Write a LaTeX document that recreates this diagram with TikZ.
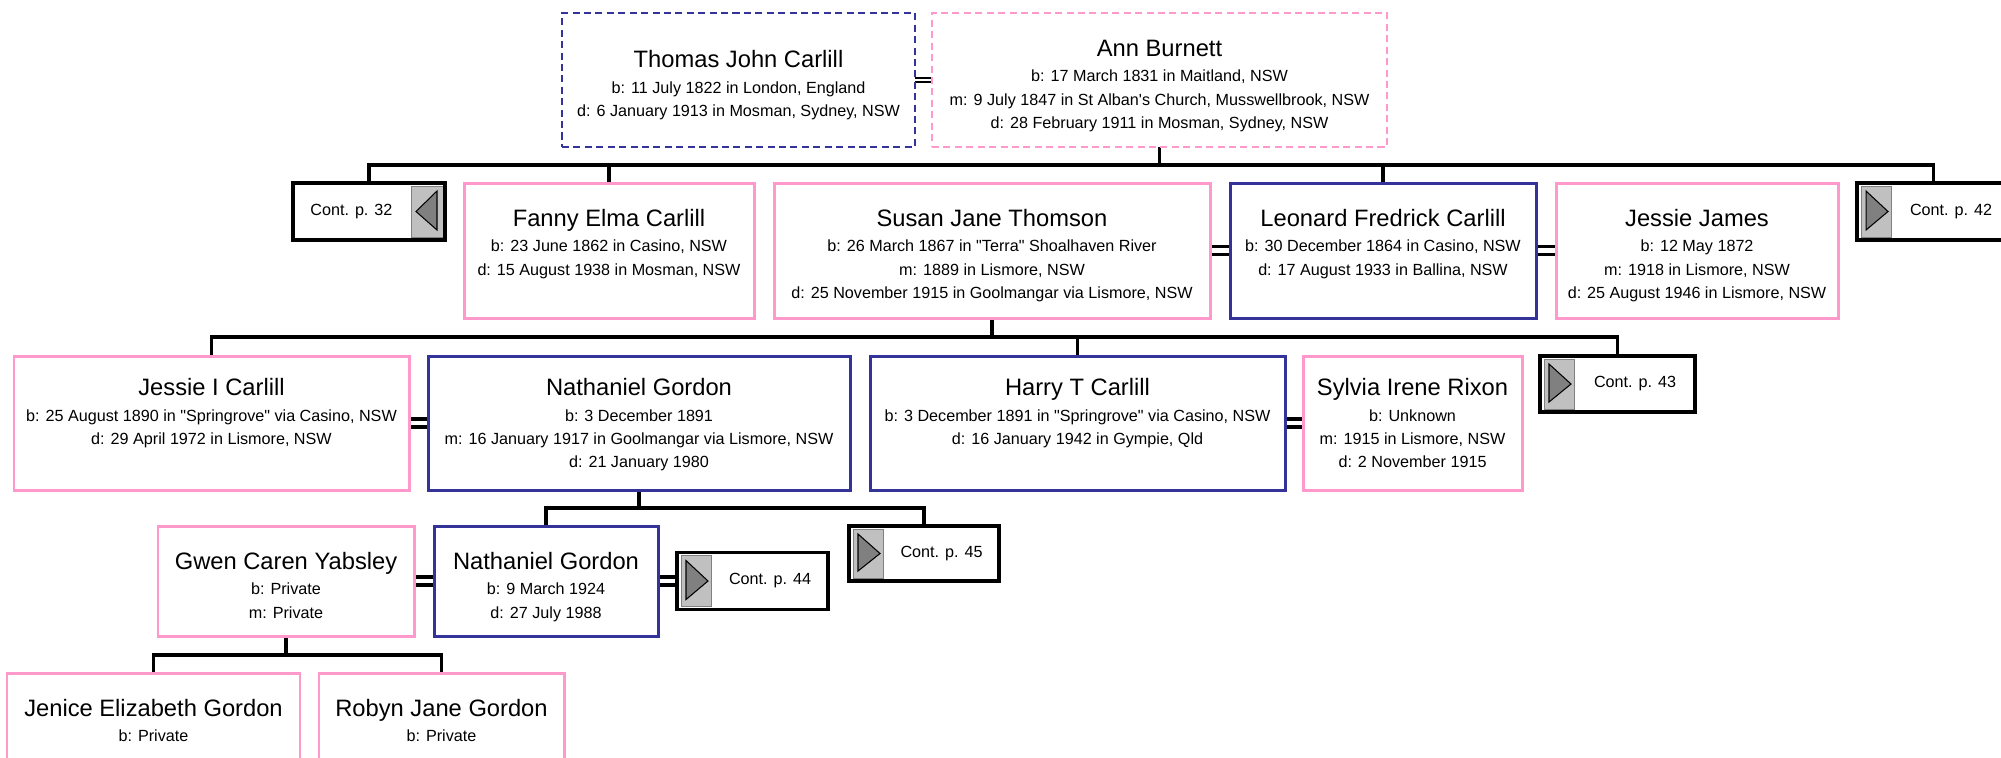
\documentclass[tikz,border=0pt]{standalone}
\usepackage{fontspec}
\setmainfont{Liberation Sans}[Ligatures=TeXOff]
\usetikzlibrary{positioning,calc,backgrounds}

\definecolor{navy}{HTML}{333399}
\definecolor{rose}{HTML}{FF99CC}
\definecolor{tabgray}{HTML}{C0C0C0}
\definecolor{arrowgray}{HTML}{808080}

\newcommand{\detail}{\fontsize{9.2}{13.3}\selectfont}
\newcommand{\nm}[1]{{\fontsize{13.5}{16}\selectfont\strut #1}\\[1.3pt]}

\tikzset{
  person/.style={draw, line width=1.7pt, fill=white, inner sep=0pt, outer sep=0pt},
  man/.style={person, draw=navy},
  woman/.style={person, draw=rose},
  elder/.style={line width=1.1pt, dash pattern=on 4pt off 2.5pt},
  info/.style={anchor=north, align=center, inner sep=0pt, yshift=-13.1pt, font=\detail},
  cont/.style={draw, line width=2pt, fill=white, inner sep=0pt, outer sep=0pt, font=\detail},
  contright/.style={cont, execute at begin node={\hspace*{20pt}},
    path picture={
      \coordinate (g1) at ([shift={(0.08,-0.06)}]path picture bounding box.north west);
      \coordinate (g2) at ([shift={(0.68,0.06)}]path picture bounding box.south west);
      \coordinate (g3) at (g1 |- g2);
      \filldraw[fill=tabgray, draw=gray, line width=0.5pt] (g1) rectangle (g2);
      \filldraw[fill=arrowgray, draw=black, line width=0.6pt]
        ([shift={(0.1,-0.1)}]g1) -- ([shift={(0.1,0.14)}]g3) -- ($(g1)!0.5!(g2)+(0.24,0)$) -- cycle;
    }},
  contleft/.style={cont, execute at end node={\hspace*{20pt}},
    path picture={
      \coordinate (g1) at ([shift={(-0.04,-0.06)}]path picture bounding box.north east);
      \coordinate (g2) at ([shift={(-0.68,0.06)}]path picture bounding box.south east);
      \coordinate (g3) at (g1 |- g2);
      \filldraw[fill=tabgray, draw=gray, line width=0.5pt] (g1) rectangle (g2);
      \filldraw[fill=arrowgray, draw=black, line width=0.6pt]
        ([shift={(-0.12,-0.1)}]g1) -- ([shift={(-0.12,0.14)}]g3) -- ($(g1)!0.5!(g2)+(-0.22,0)$) -- cycle;
    }},
  link/.style={line width=1.8pt},
  wed/.style={double, line width=2pt, double distance=2.4pt},
  wedthin/.style={double, line width=1.1pt, double distance=1.3pt}
}

\begin{document}
\begin{tikzpicture}
\path[use as bounding box] (0,0) rectangle (40.02,-15.14);

% parents
\node[man, elder, minimum width=7.06cm, minimum height=2.68cm,
  label={[info, yshift=-6.7pt]north:{\nm{Thomas John Carlill}b: 11 July 1822 in London, England\\d: 6 January 1913 in Mosman, Sydney, NSW}}]
  at (14.77,-1.60) (thomas) {};
\node[woman, elder, minimum width=9.10cm, minimum height=2.68cm, right=0.34cm of thomas,
  label={[info]north:{\nm{Ann Burnett}b: 17 March 1831 in Maitland, NSW\\m: 9 July 1847 in St Alban's Church, Musswellbrook, NSW\\d: 28 February 1911 in Mosman, Sydney, NSW}}]
  (ann) {};

% children
\node[contleft, minimum width=3.04cm, minimum height=1.14cm] at (7.38,-4.23) (cont32) {Cont. p. 32};
\node[woman, minimum width=5.80cm, minimum height=2.70cm,
  label={[info]north:{\nm{Fanny Elma Carlill}b: 23 June 1862 in Casino, NSW\\d: 15 August 1938 in Mosman, NSW}}]
  at (12.18,-5.01) (fanny) {};
\node[woman, minimum width=8.72cm, minimum height=2.70cm, right=0.40cm of fanny,
  label={[info]north:{\nm{Susan Jane Thomson}b: 26 March 1867 in "Terra" Shoalhaven River\\m: 1889 in Lismore, NSW\\d: 25 November 1915 in Goolmangar via Lismore, NSW}}]
  (susan) {};
\node[man, minimum width=6.12cm, minimum height=2.70cm, right=0.40cm of susan,
  label={[info]north:{\nm{Leonard Fredrick Carlill}b: 30 December 1864 in Casino, NSW\\d: 17 August 1933 in Ballina, NSW}}]
  (leonard) {};
\node[woman, minimum width=5.64cm, minimum height=2.70cm, right=0.40cm of leonard,
  label={[info]north:{\nm{Jessie James}b: 12 May 1872\\m: 1918 in Lismore, NSW\\d: 25 August 1946 in Lismore, NSW}}]
  (jessiej) {};
\node[contright, minimum width=3.06cm, minimum height=1.14cm] at (38.67,-4.23) (cont42) {Cont. p. 42};

% grandchildren
\node[woman, minimum width=7.90cm, minimum height=2.68cm,
  label={[info, yshift=2pt]north:{\nm{Jessie I Carlill}b: 25 August 1890 in "Springrove" via Casino, NSW\\d: 29 April 1972 in Lismore, NSW}}]
  at (4.23,-8.46) (jessiei) {};
\node[man, minimum width=8.44cm, minimum height=2.68cm, right=0.38cm of jessiei,
  label={[info, yshift=2pt]north:{\nm{Nathaniel Gordon}b: 3 December 1891\\m: 16 January 1917 in Goolmangar via Lismore, NSW\\d: 21 January 1980}}]
  (nathaniel) {};
\node[man, minimum width=8.30cm, minimum height=2.68cm, right=0.40cm of nathaniel,
  label={[info, yshift=2pt]north:{\nm{Harry T Carlill}b: 3 December 1891 in "Springrove" via Casino, NSW\\d: 16 January 1942 in Gympie, Qld}}]
  (harry) {};
\node[woman, minimum width=4.38cm, minimum height=2.68cm, right=0.36cm of harry,
  label={[info, yshift=2pt]north:{\nm{Sylvia Irene Rixon}b: Unknown\\m: 1915 in Lismore, NSW\\d: 2 November 1915}}]
  (sylvia) {};
\node[contright, minimum width=3.10cm, minimum height=1.12cm] at (32.35,-7.68) (cont43) {Cont. p. 43};

% next generation
\node[woman, minimum width=5.12cm, minimum height=2.20cm,
  label={[info]north:{\nm{Gwen Caren Yabsley}b: Private\\m: Private}}]
  at (5.72,-11.62) (gwen) {};
\node[man, minimum width=4.48cm, minimum height=2.20cm, right=0.40cm of gwen,
  label={[info]north:{\nm{Nathaniel Gordon}b: 9 March 1924\\d: 27 July 1988}}]
  (nat2) {};
\node[contright, minimum width=3.02cm, minimum height=1.14cm, right=0.38cm of nat2] (cont44) {Cont. p. 44};
\node[contright, minimum width=3.00cm, minimum height=1.10cm] at (18.48,-11.07) (cont45) {Cont. p. 45};

\node[woman, minimum width=5.86cm, minimum height=2.20cm,
  label={[info]north:{\nm{Jenice Elizabeth Gordon}b: Private}}]
  at (3.07,-14.56) (jenice) {};
\node[woman, minimum width=4.90cm, minimum height=2.20cm, right=0.38cm of jenice,
  label={[info]north:{\nm{Robyn Jane Gordon}b: Private}}]
  (robyn) {};

\begin{scope}[on background layer]
\fill[white] (0,0) rectangle (40.02,-15.14);

\coordinate (bus1) at ([yshift=-0.36cm]ann.south);
\draw[link] (ann.south) -- (bus1);
\draw[link] (cont32.north) |- (bus1) -| (cont42.north);
\draw[link] (fanny.north) -- (fanny.north |- bus1);
\draw[link] (leonard.north) -- (leonard.north |- bus1);

\coordinate (bus2) at ([yshift=-0.38cm]susan.south);
\draw[link] (susan.south) -- (bus2);
\draw[link] (jessiei.north) |- (bus2) -| (cont43.north);
\draw[link] (harry.north) -- (harry.north |- bus2);

\coordinate (bus3) at ([yshift=-0.36cm]nathaniel.south);
\draw[link] (nathaniel.south) -- (bus3);
\draw[link] (nat2.north) |- (bus3) -| (cont45.north);

\coordinate (bus4) at ([yshift=-0.38cm]gwen.south);
\draw[link] (gwen.south) -- (bus4);
\draw[link] (jenice.north) |- (bus4) -| (robyn.north);

\draw[wedthin] (thomas.east) -- (ann.west);
\draw[wed] (susan.east) -- (leonard.west);
\draw[wed] (leonard.east) -- (jessiej.west);
\draw[wed] (jessiei.east) -- (nathaniel.west);
\draw[wed] (harry.east) -- (sylvia.west);
\draw[wed] (gwen.east) -- (nat2.west);
\draw[wed] (nat2.east) -- (cont44.west);
\end{scope}
\end{tikzpicture}
\end{document}
